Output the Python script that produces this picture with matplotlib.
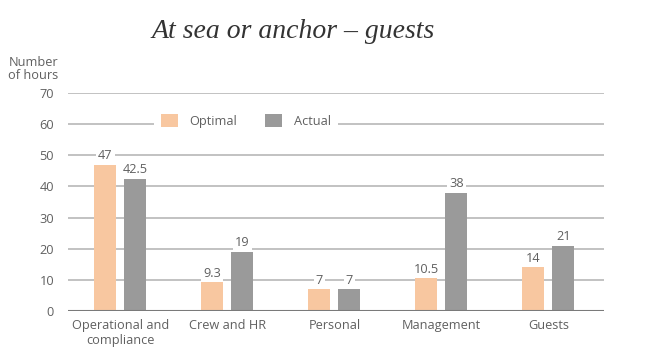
import matplotlib.pyplot as plt
import numpy as np

# Datos del gráfico
categorias = ["Operational and\ncompliance", "Crew and HR", "Personal", "Management", "Guests"]
optimo = [47, 9.3, 7, 10.5, 14]
actual = [42.5, 19, 7, 38, 21]
etiquetas_opt = ["47", "9.3", "7", "10.5", "14"]
etiquetas_act = ["42.5", "19", "7", "38", "21"]

COLOR_OPT = "#F8C7A0"
COLOR_ACT = "#9A9A9A"
TEXTO = "#606060"
TAM = 9.2

plt.rcParams['font.family'] = ['Open Sans', 'DejaVu Sans']

fig = plt.figure(figsize=(6.46, 3.64), dpi=100)
ax = fig.add_axes([68 / 646, 1 - 311 / 364, (604 - 68) / 646, (311 - 93) / 364])

x = np.arange(len(categorias))
ancho = 0.205
desp = 0.14

ax.bar(x - desp, optimo, ancho, color=COLOR_OPT, zorder=2, label="Optimal")
ax.bar(x + desp, actual, ancho, color=COLOR_ACT, zorder=2, label="Actual")

# Etiquetas de valores con fondo blanco (tapan la rejilla)
caja = dict(facecolor="white", edgecolor="none", pad=1.5)
for xi, v, t in zip(x - desp, optimo, etiquetas_opt):
    ax.text(xi, v + 0.8, t, ha="center", va="bottom", fontsize=TAM, color=TEXTO, bbox=caja, zorder=3)
for xi, v, t in zip(x + desp, actual, etiquetas_act):
    ax.text(xi, v + 0.8, t, ha="center", va="bottom", fontsize=TAM, color=TEXTO, bbox=caja, zorder=3)

ax.set_xlim(-0.49, 4.52)
ax.set_ylim(0, 70)
ax.set_yticks(range(0, 71, 10))
ax.set_xticks(x)
ax.set_xticklabels(categorias, linespacing=1.15)
ax.tick_params(axis="both", length=0, colors=TEXTO, labelsize=TAM)
ax.tick_params(axis="x", pad=6)
ax.tick_params(axis="y", pad=10)

ax.grid(axis="y", color="#bdbdbd", linewidth=1.3, zorder=0)
ax.axhline(0, color="#7a7a7a", linewidth=1.5, zorder=2)
for s in ax.spines.values():
    s.set_visible(False)

leg = ax.legend(loc="center left", bbox_to_anchor=(0.16, 0.872), ncol=2, frameon=True,
                fontsize=TAM, handlelength=1.3, handleheight=1.2, columnspacing=2.2,
                borderpad=0.6, borderaxespad=0, handletextpad=0.9, labelcolor=TEXTO)
leg.get_frame().set_facecolor("white")
leg.get_frame().set_edgecolor("none")
leg.get_frame().set_alpha(1)
leg.set_zorder(3)

fig.text(58 / 646, 1 - 69 / 364, "Number\nof hours", ha="right", va="center",
         fontsize=TAM, color=TEXTO, linespacing=1.0)
fig.text(293 / 646, 1 - 31 / 364, "At sea or anchor – guests", ha="center", va="center",
         fontsize=20, style="italic", family="Liberation Serif", color="#333333")

fig.savefig("out.png", dpi=100, facecolor="white")
